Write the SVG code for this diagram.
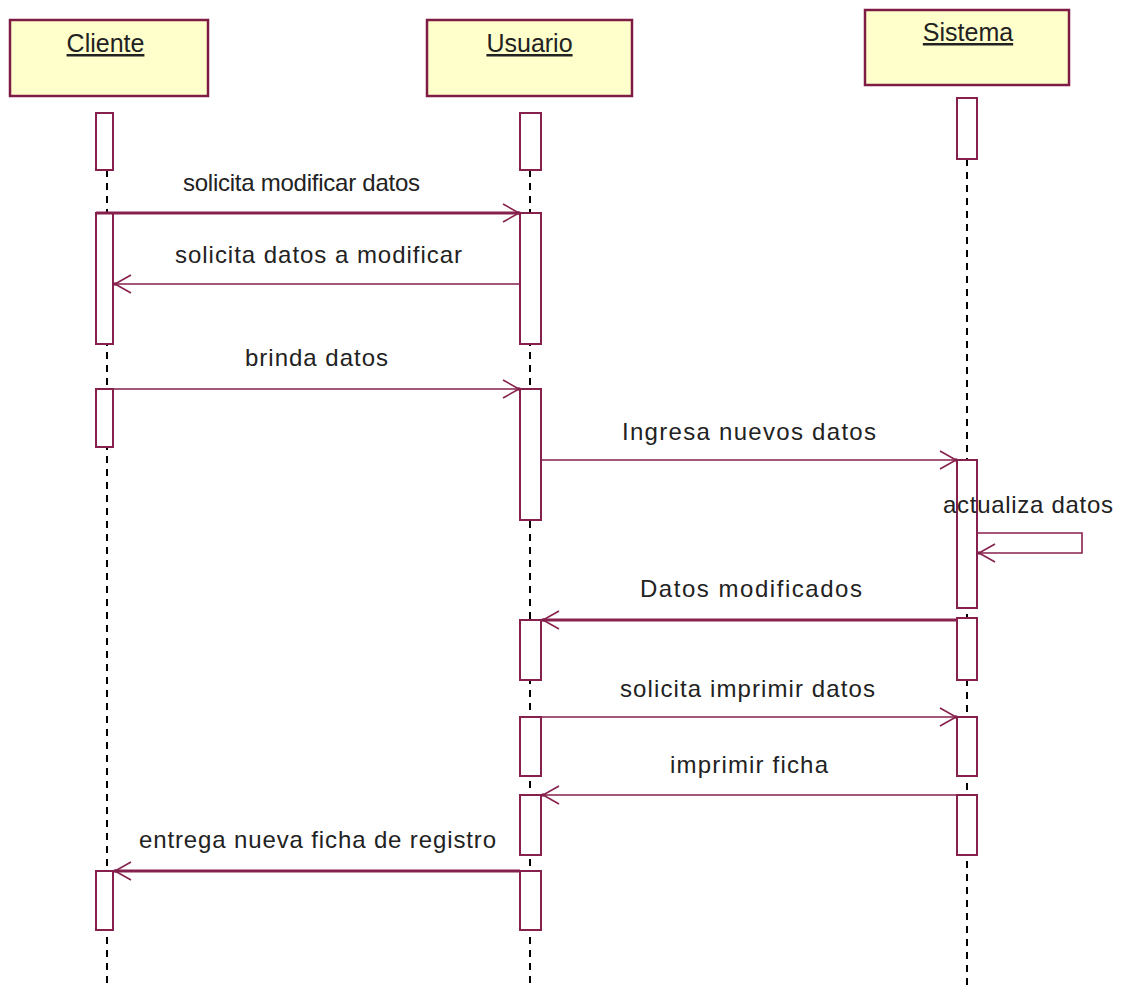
<svg xmlns="http://www.w3.org/2000/svg" width="1123" height="989" viewBox="0 0 1123 989">
  <style>
    .head { fill: #ffffcc; stroke: #7e1c45; stroke-width: 2.5; }
    .act { fill: #ffffff; stroke: #86204c; stroke-width: 2; }
    .life { stroke: #000000; stroke-width: 2; stroke-dasharray: 7 6; fill: none; }
    .msg { stroke: #86204c; stroke-width: 1.6; fill: none; }
    .msg.thick { stroke-width: 3; }
    .title { font-family: "Liberation Sans", Arial, sans-serif; font-size: 25px; fill: #222222; text-anchor: middle; text-decoration: underline; }
    .lbl { font-family: "Liberation Sans", Arial, sans-serif; font-size: 24px; fill: #222222; text-anchor: middle; }
  </style>
  <defs>
    <marker id="open" markerUnits="userSpaceOnUse" markerWidth="22" markerHeight="22" refX="18" refY="11" orient="auto">
      <path d="M2,2 L18,11 L2,20" fill="none" stroke="#86204c" stroke-width="1.6"/>
      <circle cx="18" cy="11" r="1.8" fill="#86204c"/>
    </marker>
  </defs>
  <rect width="1123" height="989" fill="#ffffff"/>

  <!-- lifelines -->
  <g id="lifelines">
    <line class="life" x1="107" y1="170" x2="107" y2="989"/>
    <line class="life" x1="530" y1="170" x2="530" y2="989"/>
    <line class="life" x1="967" y1="159" x2="967" y2="989"/>
  </g>

  <!-- participants -->
  <g id="cliente">
    <rect class="head" x="10" y="20" width="198" height="76"/>
    <text class="title" x="105.5" y="52">Cliente</text>
    <rect class="act" x="96" y="113" width="17" height="57"/>
    <rect class="act" x="96" y="213" width="17" height="131"/>
    <rect class="act" x="96" y="389" width="17" height="58"/>
    <rect class="act" x="96" y="871" width="17" height="59"/>
  </g>
  <g id="usuario">
    <rect class="head" x="427" y="20" width="205" height="76"/>
    <text class="title" x="529.5" y="52">Usuario</text>
    <rect class="act" x="520" y="113" width="21" height="57"/>
    <rect class="act" x="520" y="213" width="21" height="131"/>
    <rect class="act" x="520" y="389" width="21" height="131"/>
    <rect class="act" x="520" y="620" width="21" height="60"/>
    <rect class="act" x="520" y="717" width="21" height="59"/>
    <rect class="act" x="520" y="795" width="21" height="60"/>
    <rect class="act" x="520" y="871" width="21" height="59"/>
  </g>
  <g id="sistema">
    <rect class="head" x="865" y="10" width="204" height="75"/>
    <text class="title" x="968" y="41">Sistema</text>
    <rect class="act" x="957" y="98" width="20" height="61"/>
    <rect class="act" x="957" y="460" width="20" height="148"/>
    <rect class="act" x="957" y="618" width="20" height="62"/>
    <rect class="act" x="957" y="717" width="20" height="59"/>
    <rect class="act" x="957" y="795" width="20" height="60"/>
  </g>

  <!-- messages -->
  <g id="connectors">
    <line class="msg thick" x1="96" y1="213" x2="519" y2="213" marker-end="url(#open)"/>
    <line class="msg" x1="520" y1="284" x2="115" y2="284" marker-end="url(#open)"/>
    <line class="msg" x1="113" y1="389" x2="519" y2="389" marker-end="url(#open)"/>
    <line class="msg" x1="541" y1="460" x2="956" y2="460" marker-end="url(#open)"/>
    <polyline class="msg" points="977,533 1082,533 1082,553 979,553" marker-end="url(#open)"/>
    <line class="msg thick" x1="957" y1="620" x2="543" y2="620" marker-end="url(#open)"/>
    <line class="msg" x1="541" y1="717" x2="956" y2="717" marker-end="url(#open)"/>
    <line class="msg" x1="957" y1="795" x2="543" y2="795" marker-end="url(#open)"/>
    <line class="msg thick" x1="520" y1="871" x2="115" y2="871" marker-end="url(#open)"/>
  </g>

  <!-- message labels -->
  <g id="labels">
    <text class="lbl" x="301.5" y="191" textLength="237">solicita modificar datos</text>
    <text class="lbl" x="318.5" y="263" textLength="287">solicita datos a modificar</text>
    <text class="lbl" x="316.5" y="366" textLength="143">brinda datos</text>
    <text class="lbl" x="749" y="440" textLength="254">Ingresa nuevos datos</text>
    <text class="lbl" x="1028" y="513" textLength="170">actualiza datos</text>
    <text class="lbl" x="751" y="597" textLength="222">Datos modificados</text>
    <text class="lbl" x="747.5" y="697" textLength="255">solicita imprimir datos</text>
    <text class="lbl" x="749" y="773" textLength="158">imprimir ficha</text>
    <text class="lbl" x="317.5" y="848" textLength="357">entrega nueva ficha de registro</text>
  </g>
</svg>
